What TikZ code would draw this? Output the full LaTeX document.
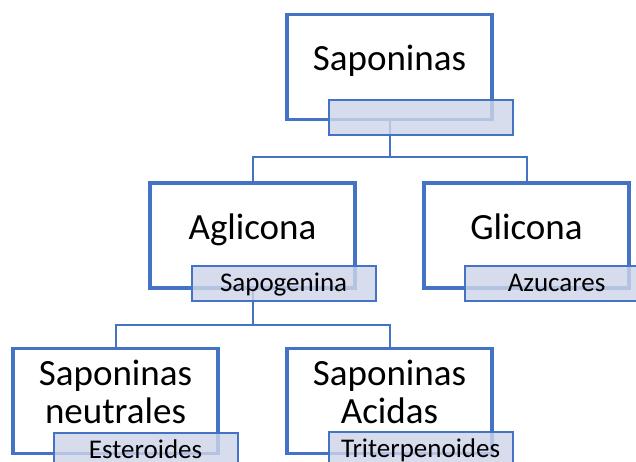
\documentclass[tikz,border=0pt]{standalone}
\usepackage{fontspec}
\setmainfont{Carlito}
\definecolor{boxblue}{HTML}{4472C4}
\definecolor{tagfill}{HTML}{CFD5EA}
\begin{document}
\begin{tikzpicture}[x=1pt, y=-1pt,
  mainbox/.style={draw=boxblue, line width=3.2pt, fill=white, minimum width=205pt,
    minimum height=105pt, inner sep=0pt, align=center,
    font=\fontsize{37}{38}\selectfont, text height=24pt, text depth=16.5pt},
  twoline/.style={text height=62pt, text depth=18pt},
  tagbox/.style={draw=boxblue, line width=2pt, fill=tagfill, fill opacity=0.82,
    text opacity=1, minimum width=184pt, minimum height=35pt, inner sep=0pt,
    font=\fontsize{27}{28}\selectfont, text height=20pt, text depth=4pt,
    anchor=north east},
  link/.style={draw=boxblue, line width=2pt}]
  \clip (0,0) rectangle (636,462);

  % Boxes
  \node[mainbox] (sap) at (389.5,67) {Saponinas};
  \node[mainbox] (agl) at (252.5,235.5) {Aglicona};
  \node[mainbox] (gli) at (526.5,235.5) {Glicona};
  \node[mainbox, twoline] (neu) at (115.5,401) {Saponinas\\neutrales};
  \node[mainbox, twoline] (aci) at (389.5,401) {Saponinas\\Acidas};

  % Connectors
  \coordinate (split1) at ([yshift=-36pt]sap.south);
  \draw[link] (sap.south) -- (split1) -| (agl.north);
  \draw[link] (split1) -| (gli.north);
  \coordinate (split2) at ([yshift=-35pt]agl.south);
  \draw[link] (agl.south) -- (split2) -| (neu.north);
  \draw[link] (split2) -| (aci.north);

  % Tags on top
  \node[tagbox] (saptag) at ([xshift=20pt, yshift=22pt]sap.south east) {};
  \node[tagbox] (agltag) at ([xshift=20pt, yshift=25pt]agl.south east) {Sapogenina};
  \node[tagbox] (glitag) at ([xshift=19pt, yshift=25pt]gli.south east) {Azucares};
  \node[tagbox] (neutag) at ([xshift=19pt, yshift=23pt]neu.south east) {Esteroides};
  \node[tagbox] (acitag) at ([xshift=20pt, yshift=24pt]aci.south east) {Triterpenoides};
\end{tikzpicture}
\end{document}
